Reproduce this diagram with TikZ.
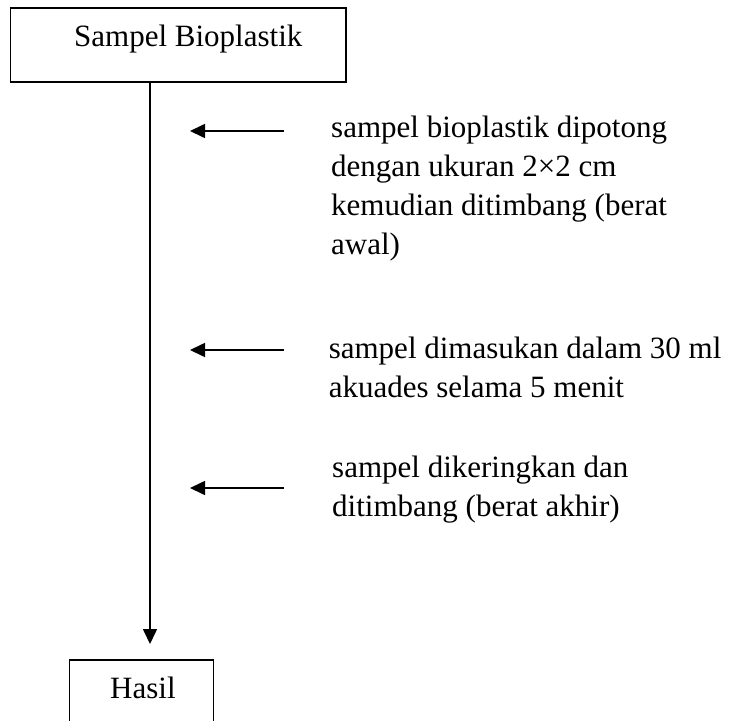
\documentclass[tikz,border=0pt]{standalone}
\usepackage{fontspec}
\setmainfont{Liberation Serif}
\usetikzlibrary{arrows.meta}
\begin{document}
\begin{tikzpicture}[x=1pt,y=-1pt,
  boxline/.style={draw=black, line width=1.6pt},
  lbl/.style={font=\fontsize{31}{39}\selectfont, inner sep=0pt, text=black},
  block/.style={lbl, align=left, anchor=north west},
  arr/.style={-{Triangle[length=15pt,width=14pt]}, line width=1.6pt}]
\useasboundingbox (0,0) rectangle (732,721);
% top box
\node[boxline, minimum width=335.5pt, minimum height=74pt, anchor=north west, inner sep=0pt] (top) at (9.5,7) {};
\node[lbl, anchor=base west] (toplabel) at (74,46) {Sampel Bioplastik};
% main vertical arrow
\coordinate (tip) at (150,644);
\draw[arr] (top.south -| tip) -- (tip);
% bottom open box
\coordinate (hbl) at (69.5,723);
\coordinate (htl) at (69.5,660);
\coordinate (htr) at (213.5,660);
\coordinate (hbr) at (213.5,723);
\draw[boxline] (hbl) -- (htl) -- (htr) -- (hbr);
\node[lbl, anchor=base west] (hasil) at (110,698) {Hasil};
% step texts
\node[block] (s1) at (331,110.2) {\strut sampel bioplastik dipotong\\dengan ukuran 2×2 cm\\kemudian ditimbang (berat\\awal)};
\node[block] (s2) at (328.6,330.7) {\strut sampel dimasukan dalam 30 ml\\akuades selama 5 menit};
\node[block] (s3) at (332,450.2) {\strut sampel dikeringkan dan\\ditimbang (berat akhir)};
% side arrows
\coordinate (a1s) at (284,131); \coordinate (a1e) at (190,131);
\coordinate (a2s) at (284,350); \coordinate (a2e) at (190,350);
\coordinate (a3s) at (284,488); \coordinate (a3e) at (190,488);
\draw[arr] (a1s) -- (a1e);
\draw[arr] (a2s) -- (a2e);
\draw[arr] (a3s) -- (a3e);
\end{tikzpicture}
\end{document}
